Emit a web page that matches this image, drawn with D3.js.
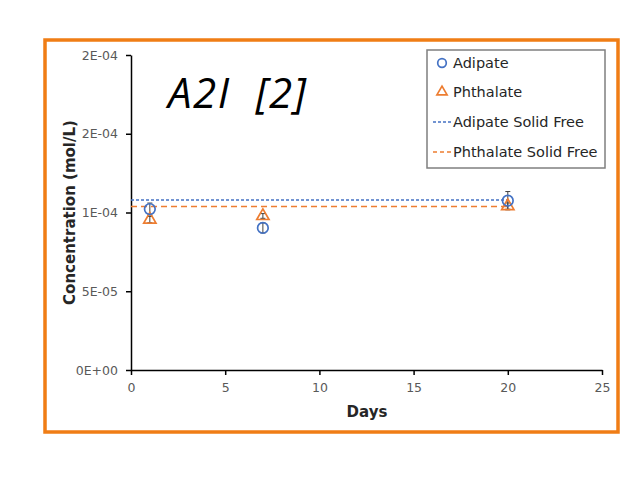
<!DOCTYPE html>
<html>
<head>
<meta charset="utf-8">
<script src="https://cdn.jsdelivr.net/npm/d3@7"></script>
<style>
  body { margin: 0; background: #fff; }
  svg { display: block; }
</style>
</head>
<body>
<svg id="chart" width="637" height="504"></svg>
<script>
// data
const days = [1, 7, 20];
const adipate = [1.022e-4, 0.902e-4, 1.075e-4];
const adipateErr = [0.038e-4, 0.032e-4, 0.058e-4];
const phthalate = [0.955e-4, 0.978e-4, 1.041e-4];
const phthalateErr = [0.02e-4, 0.015e-4, 0.02e-4];
const adipateSolidFree = 1.08e-4;
const phthalateSolidFree = 1.038e-4;
const solidFreeDays = [0, 20];
const xTicks = [0, 5, 10, 15, 20, 25];
const yTicks = [0, 0.5e-4, 1e-4, 1.5e-4, 2e-4];
const yTickLabels = ['0E+00', '5E-05', '1E-04', '2E-04', '2E-04'];
const legendLabels = ['Adipate', 'Phthalate', 'Adipate Solid Free', 'Phthalate Solid Free'];

const blue = '#4472C4';
const orange = '#ED7D31';
const font = 'DejaVu Sans, sans-serif';

const svg = d3.select('#chart');

// orange frame
svg.append('rect').attr('x', 45).attr('y', 40).attr('width', 573).attr('height', 392)
  .attr('fill', 'none').attr('stroke', '#F07D15').attr('stroke-width', 3.5);

const x = d3.scaleLinear().domain([0, 25]).range([131, 602]);
const y = d3.scaleLinear().domain([0, 2e-4]).range([370, 55]);

// axes
const xAxis = svg.append('g').attr('transform', 'translate(0,370)')
  .call(d3.axisBottom(x).tickValues(xTicks).tickSize(5).tickPadding(8).tickSizeOuter(0));
const yAxis = svg.append('g').attr('transform', 'translate(131,0)')
  .call(d3.axisLeft(y).tickValues(yTicks).tickSize(5).tickPadding(8).tickSizeOuter(0)
    .tickFormat((d, i) => yTickLabels[i]));
[xAxis, yAxis].forEach(g => {
  g.select('.domain').attr('stroke', '#000').attr('stroke-width', 1.5);
  g.selectAll('.tick line').attr('stroke', '#000').attr('stroke-width', 1.5);
  g.selectAll('.tick text').attr('fill', '#595959').style('font-family', font).style('font-size', '12.5px');
});

svg.append('text').attr('x', 367).attr('y', 417).attr('text-anchor', 'middle')
  .style('font-family', font).style('font-size', '15px').style('font-weight', 'bold')
  .attr('fill', '#262626').text('Days');
svg.append('text').attr('transform', 'translate(75,212.5) rotate(-90)').attr('text-anchor', 'middle')
  .style('font-family', font).style('font-size', '15px').style('font-weight', 'bold')
  .attr('fill', '#262626').text('Concentration (mol/L)');

// title
svg.append('text').attr('x', 168).attr('y', 108).attr('xml:space', 'preserve')
  .attr('textLength', 138).attr('lengthAdjust', 'spacing')
  .style('font-family', 'Open Sans, sans-serif').style('font-size', '42px').style('font-style', 'italic')
  .attr('fill', '#000').text('A2I  [2]');

// solid free lines
const line = d3.line().x(d => x(d[0])).y(d => y(d[1]));
svg.append('path').datum(solidFreeDays.map(d => [d, adipateSolidFree])).attr('d', line)
  .attr('fill', 'none').attr('stroke', blue).attr('stroke-width', 1.5).attr('stroke-dasharray', '3,2');
svg.append('path').datum(solidFreeDays.map(d => [d, phthalateSolidFree])).attr('d', line)
  .attr('fill', 'none').attr('stroke', orange).attr('stroke-width', 1.5).attr('stroke-dasharray', '6,4');

// error bars
function errorBars(vals, errs) {
  const g = svg.append('g').attr('stroke', '#404040').attr('stroke-width', 1);
  days.forEach((d, i) => {
    const cx = x(d);
    g.append('line').attr('x1', cx).attr('x2', cx).attr('y1', y(vals[i] - errs[i])).attr('y2', y(vals[i] + errs[i]));
    [vals[i] - errs[i], vals[i] + errs[i]].forEach(v => {
      g.append('line').attr('x1', cx - 2.5).attr('x2', cx + 2.5).attr('y1', y(v)).attr('y2', y(v));
    });
  });
}
errorBars(adipate, adipateErr);
errorBars(phthalate, phthalateErr);

const triangle = d3.symbol().type(d3.symbolTriangle).size(65);

svg.append('g').selectAll('path').data(days).join('path')
  .attr('d', triangle).attr('transform', (d, i) => `translate(${x(d)},${y(phthalate[i])})`)
  .attr('fill', 'none').attr('stroke', orange).attr('stroke-width', 1.7);
svg.append('g').selectAll('circle').data(days).join('circle')
  .attr('cx', d => x(d)).attr('cy', (d, i) => y(adipate[i])).attr('r', 5.3)
  .attr('fill', 'none').attr('stroke', blue).attr('stroke-width', 1.7);

// legend
const lg = svg.append('g');
lg.append('rect').attr('x', 427).attr('y', 50).attr('width', 178).attr('height', 118)
  .attr('fill', '#fff').attr('stroke', '#7F7F7F').attr('stroke-width', 1.5);
const rowY = [63, 92, 122, 152];
legendLabels.forEach((t, i) => {
  lg.append('text').attr('x', 453).attr('y', rowY[i]).attr('dy', '0.35em')
    .style('font-family', font).style('font-size', '14.5px').attr('fill', '#262626').text(t);
});
lg.append('circle').attr('cx', 442).attr('cy', rowY[0]).attr('r', 4.3)
  .attr('fill', 'none').attr('stroke', blue).attr('stroke-width', 1.7);
lg.append('path').attr('d', d3.symbol().type(d3.symbolTriangle).size(45))
  .attr('transform', `translate(442,${rowY[1]})`)
  .attr('fill', 'none').attr('stroke', orange).attr('stroke-width', 1.7);
lg.append('line').attr('x1', 433).attr('x2', 453).attr('y1', rowY[2]).attr('y2', rowY[2])
  .attr('stroke', blue).attr('stroke-width', 1.5).attr('stroke-dasharray', '3,2');
lg.append('line').attr('x1', 433).attr('x2', 453).attr('y1', rowY[3]).attr('y2', rowY[3])
  .attr('stroke', orange).attr('stroke-width', 1.5).attr('stroke-dasharray', '4,3');
</script>
</body>
</html>
